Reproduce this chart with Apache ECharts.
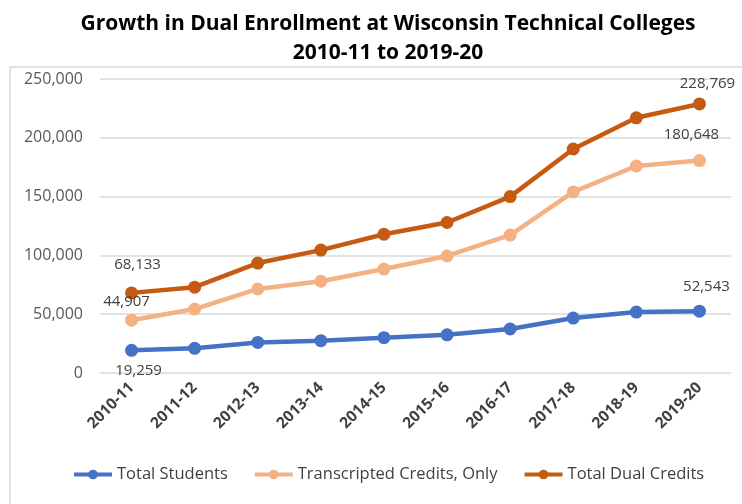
<!DOCTYPE html>
<html>
<head>
<meta charset="utf-8">
<script src="https://cdn.jsdelivr.net/npm/echarts@6/dist/echarts.min.js"></script>
<style>
  html, body { margin: 0; padding: 0; background: #fff; }
  #main { width: 742px; height: 504px; }
</style>
</head>
<body>
<div id="main"></div>
<script>
// categories and values
const years = ['2010-11', '2011-12', '2012-13', '2013-14', '2014-15',
  '2015-16', '2016-17', '2017-18', '2018-19', '2019-20'];
const totalStudents = [19259, 21000, 26000, 27500, 30000, 32500, 37400, 46700, 51800, 52543];
const transcripted = [44907, 54400, 71500, 78000, 88400, 99500, 117300, 154000, 176000, 180648];
const totalDual = [68133, 73000, 93500, 104500, 118000, 128000, 150000, 190500, 217000, 228769];
const yTicks = [0, 50000, 100000, 150000, 200000, 250000];

const font = 'Open Sans';
const fmt = v => v.toLocaleString('en-US');

// only first and last points carry labels
function withLabels(arr, first, last) {
  return arr.map((v, i) => {
    if (i === 0) return { value: v, label: Object.assign({ show: true }, first) };
    if (i === arr.length - 1) return { value: v, label: Object.assign({ show: true }, last) };
    return v;
  });
}

const labelStyle = { color: '#404040', fontSize: 15, fontFamily: font, formatter: p => fmt(p.value) };

const myChart = echarts.init(document.getElementById('main'));

const option = {
  backgroundColor: '#fff',
  animation: false,
  title: {
    text: 'Growth in Dual Enrollment at Wisconsin Technical Colleges\n2010-11 to 2019-20',
    left: 383,
    textAlign: 'center',
    top: 5,
    textStyle: { fontFamily: font, fontWeight: 'bold', fontSize: 21, color: '#000', lineHeight: 29 }
  },
  graphic: [{
    type: 'rect',
    shape: { x: 10, y: 67, width: 760, height: 460 },
    style: { fill: 'none', stroke: '#d9d9d9', lineWidth: 1.5 },
    silent: true
  }],
  grid: { left: 100, right: 11, top: 79, bottom: 131 },
  legend: {
    bottom: 16,
    left: 67,
    itemWidth: 38,
    itemHeight: 12,
    itemGap: 25,
    lineStyle: { width: 4 },
    textStyle: { fontFamily: font, fontSize: 16.5, color: '#404040' },
    data: ['Total Students', 'Transcripted Credits, Only', 'Total Dual Credits']
  },
  xAxis: {
    type: 'category',
    data: years,
    axisLine: { show: false },
    axisTick: { show: false },
    axisLabel: { rotate: 45, margin: 12, fontFamily: font, fontSize: 15.5, fontWeight: 'bold', color: '#404040' }
  },
  yAxis: {
    type: 'value',
    min: yTicks[0],
    max: yTicks[yTicks.length - 1],
    interval: 50000,
    axisLine: { show: false },
    axisTick: { show: false },
    axisLabel: { margin: 17, fontFamily: font, fontSize: 16, color: '#595959', formatter: v => fmt(v) },
    splitLine: { lineStyle: { color: '#d9d9d9', width: 1.5 } }
  },
  series: [
    {
      name: 'Total Students',
      type: 'line',
      symbol: 'circle',
      symbolSize: 13,
      color: '#4472C4',
      lineStyle: { width: 4.5 },
      label: labelStyle,
      data: withLabels(totalStudents, { position: 'bottom', distance: 6, offset: [7, 0] }, { position: 'top', distance: 10, offset: [7, 0] })
    },
    {
      name: 'Transcripted Credits, Only',
      type: 'line',
      symbol: 'circle',
      symbolSize: 13,
      color: '#F4B183',
      lineStyle: { width: 4.5 },
      label: labelStyle,
      data: withLabels(transcripted, { position: 'top', distance: 4, offset: [-5, 0] }, { position: 'top', distance: 12, offset: [-8, 0] })
    },
    {
      name: 'Total Dual Credits',
      type: 'line',
      symbol: 'circle',
      symbolSize: 13,
      color: '#C55A11',
      lineStyle: { width: 4.5 },
      label: labelStyle,
      data: withLabels(totalDual, { position: 'top', distance: 14, offset: [6, 0] }, { position: 'top', distance: 6, offset: [8, 0] })
    }
  ]
};

myChart.setOption(option);
</script>
</body>
</html>
